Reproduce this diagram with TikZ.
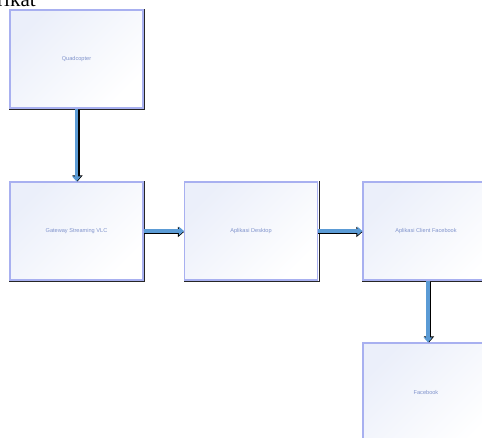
\documentclass[tikz,border=0pt]{standalone}
\usepackage{fontspec}
\setmainfont{Liberation Serif}
\newfontfamily\boxfont{Liberation Sans}
\usetikzlibrary{arrows.meta}
\definecolor{boxedge}{HTML}{A8B0F0}
\definecolor{boxtint}{HTML}{EBEFFA}
\definecolor{boxtext}{HTML}{8093CC}
\definecolor{arrowblue}{HTML}{5B9BD5}
\tikzset{
  flowbox/.style={draw=boxedge, line width=1.2pt, minimum width=133pt, minimum height=98pt,
    inner sep=0pt, shading=axis, left color=boxtint, right color=white, shading angle=45,
    font=\boxfont\fontsize{5.6}{6.5}\selectfont, text=boxtext},
  boxshadow/.style={draw=black!85, line width=1.3pt},
  flowshadow/.style={draw=black, line width=4.6pt, -{Triangle[width=10pt,length=6pt]}},
  flowarrow/.style={draw=arrowblue, line width=3.4pt, -{Triangle[width=8.5pt,length=5pt]}}
}
\begin{document}
\begin{tikzpicture}[x=1pt,y=1pt]
\useasboundingbox (0,0) rectangle (482,437);
\node[anchor=base west, font=\fontsize{21}{22}\selectfont, inner sep=0pt] (title) at (-3,430) {rikat};
\node[flowbox] (quad) at (76.5,378) {Quadcopter};
\node[flowbox] (gate) at (76.5,206) {Gateway Streaming VLC};
\node[flowbox] (desk) at (251,206) {Aplikasi Desktop};
\node[flowbox, minimum width=140pt] (client) at (433,206) {\hspace*{-14pt}Aplikasi Client Facebook};
\node[flowbox, minimum width=140pt] (fb) at (433,45) {\hspace*{-14pt}Facebook};
\foreach \n in {quad,gate,desk,client,fb}
  \draw[boxshadow] ([xshift=1.2pt]\n.north east) -- ([xshift=1.2pt,yshift=-1.2pt]\n.south east) -- ([yshift=-1.2pt]\n.south west);
% shadows of connectors
\draw[flowshadow] ([xshift=1pt,yshift=-1pt]quad.south) -- ([xshift=1pt]gate.north);
\draw[flowshadow] ([yshift=-1pt]gate.east) -- ([yshift=-1pt]desk.west);
\draw[flowshadow] ([yshift=-1pt]desk.east) -- ([yshift=-1pt]client.west);
\draw[flowshadow] ([xshift=-4pt,yshift=-1pt]client.south) -- ([xshift=-4pt]fb.north);
% connectors
\draw[flowarrow] (quad.south) -- (gate.north);
\draw[flowarrow] (gate.east) -- (desk.west);
\draw[flowarrow] (desk.east) -- (client.west);
\draw[flowarrow] ([xshift=-5pt]client.south) -- ([xshift=-5pt]fb.north);
\end{tikzpicture}
\end{document}
